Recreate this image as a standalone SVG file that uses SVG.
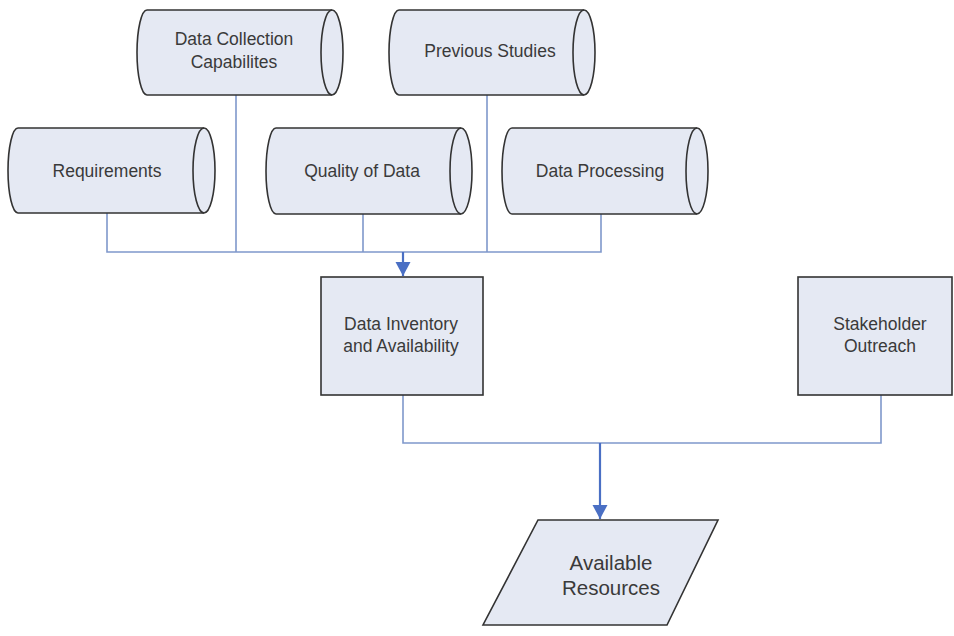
<svg xmlns="http://www.w3.org/2000/svg" width="954" height="636" viewBox="0 0 954 636">
<defs>
<style>
.shape{fill:#e5e9f3;stroke:#333;stroke-width:1.6}
.inner{fill:none;stroke:#333;stroke-width:1.6}
.t{font-family:"Liberation Sans",Arial,sans-serif;font-size:17.5px;fill:#3a3a3a;text-anchor:middle}
.big{font-size:20.5px}
.conn{fill:none;stroke:#7f98cb;stroke-width:1.6}
.arr{fill:none;stroke:#4a6fc4;stroke-width:2.2}
</style>
<marker id="ah" markerUnits="userSpaceOnUse" markerWidth="16" markerHeight="16" refX="14" refY="7.5" orient="auto" viewBox="0 0 16 16">
<path d="M0,0 L14,7.5 L0,15 Z" fill="#4a6fc4"/>
</marker>
</defs>
<rect width="954" height="636" fill="#fff"/>
<g id="connectors">
<path class="conn" d="M107,213 V252 H601 V214 M236,95 V252 M363,214 V252 M487,95 V252"/>
<path class="arr" d="M403,252 V276" marker-end="url(#ah)"/>
<path class="conn" d="M403,395 V443 H881 V395"/>
<path class="arr" d="M600,443 V519" marker-end="url(#ah)"/>
</g>
<g id="data-collection">
<path class="shape" d="M147,10 H332 A11,42.5 0 0 1 332,95 H147 A10,42.5 0 0 1 147,10 Z"/>
<path class="inner" d="M332,10 A11,42.5 0 0 0 332,95"/>
<text class="t" x="234" y="45">Data Collection</text>
<text class="t" x="234" y="68">Capabilites</text>
</g>
<g id="previous-studies">
<path class="shape" d="M399,10 H584 A11,42.5 0 0 1 584,95 H399 A10,42.5 0 0 1 399,10 Z"/>
<path class="inner" d="M584,10 A11,42.5 0 0 0 584,95"/>
<text class="t" x="490" y="57">Previous Studies</text>
</g>
<g id="requirements">
<path class="shape" d="M18,128 H204 A11,42.5 0 0 1 204,213 H18 A10,42.5 0 0 1 18,128 Z"/>
<path class="inner" d="M204,128 A11,42.5 0 0 0 204,213"/>
<text class="t" x="107" y="177">Requirements</text>
</g>
<g id="quality-of-data">
<path class="shape" d="M276,128 H461 A11,43 0 0 1 461,214 H276 A10,43 0 0 1 276,128 Z"/>
<path class="inner" d="M461,128 A11,43 0 0 0 461,214"/>
<text class="t" x="362" y="177">Quality of Data</text>
</g>
<g id="data-processing">
<path class="shape" d="M512,128 H697 A11,43 0 0 1 697,214 H512 A10,43 0 0 1 512,128 Z"/>
<path class="inner" d="M697,128 A11,43 0 0 0 697,214"/>
<text class="t" x="600" y="177">Data Processing</text>
</g>
<g id="data-inventory">
<rect class="shape" x="321" y="277" width="162" height="118"/>
<text class="t" x="401" y="330">Data Inventory</text>
<text class="t" x="401" y="352">and Availability</text>
</g>
<g id="stakeholder-outreach">
<rect class="shape" x="798" y="277" width="154" height="118"/>
<text class="t" x="880" y="330">Stakeholder</text>
<text class="t" x="880" y="352">Outreach</text>
</g>
<g id="available-resources">
<path class="shape" d="M538,520 H718 L667,625 H483 Z"/>
<text class="t big" x="611" y="570">Available</text>
<text class="t big" x="611" y="595">Resources</text>
</g>
</svg>
